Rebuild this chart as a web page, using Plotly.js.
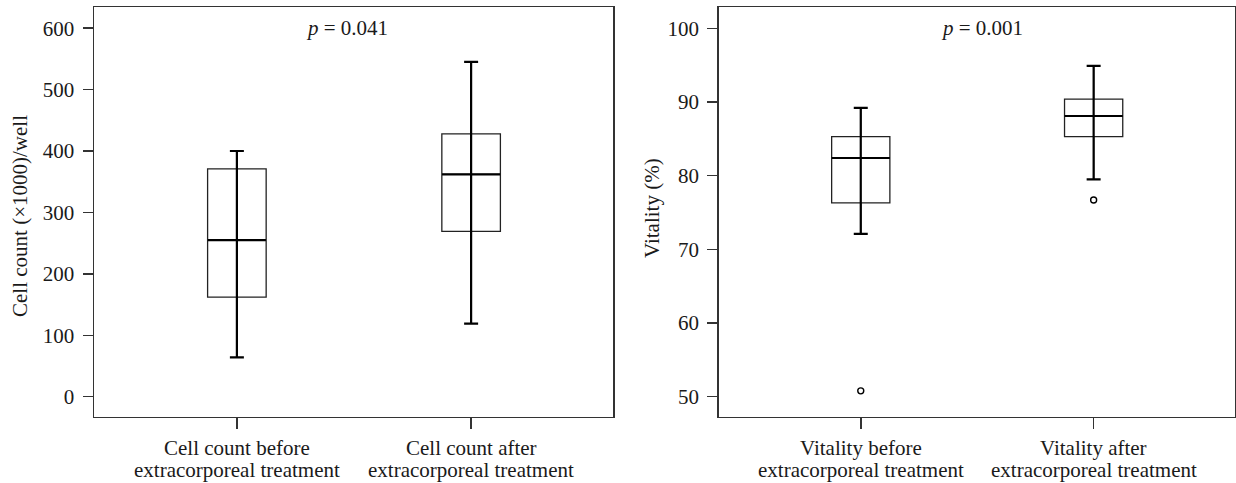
<!DOCTYPE html>
<html>
<head>
<meta charset="utf-8">
<script src="https://cdn.plot.ly/plotly-3.0.1.min.js"></script>
<style>html,body{margin:0;padding:0;background:#fff;}#chart{width:1236px;height:483px;}</style>
</head>
<body>
<div id="chart"></div>
<script>
// ---- Data ----
const cellLabelLine1 = ["Cell count before", "Cell count after"];
const cellLabelLine2 = ["extracorporeal treatment", "extracorporeal treatment"];
const cellLower  = [64, 119];
const cellQ1     = [162, 269];
const cellMedian = [255, 362];
const cellQ3     = [371, 428];
const cellUpper  = [400, 545];
const cellOutliers = [[], []];
const cellP = "0.041";
const cellTitle = "Cell count (×1000)/well";

const vitLabelLine1 = ["Vitality before", "Vitality after"];
const vitLabelLine2 = ["extracorporeal treatment", "extracorporeal treatment"];
const vitLower  = [72.1, 79.5];
const vitQ1     = [76.3, 85.3];
const vitMedian = [82.4, 88.1];
const vitQ3     = [85.3, 90.4];
const vitUpper  = [89.2, 94.9];
const vitOutliers = [[50.8], [76.7]];
const vitP = "0.001";
const vitTitle = "Vitality (%)";

const cellTicks = [0, 100, 200, 300, 400, 500, 600];
const vitTicks = [50, 60, 70, 80, 90, 100];

// ---- Styling ----
const FONT = "Liberation Serif";
const FS = 21;
const TXT = "#1a1a1a";
const FRAME = "#333";
const pos = [0, 1];
const W = 1236, H = 483;

function panelTraces(xa, ya, lower, q1, med, q3, upper, outliers) {
  const t = [];
  t.push({
    type: "box", xaxis: xa, yaxis: ya,
    x: pos, q1: q1, median: med, q3: q3, lowerfence: lower, upperfence: upper,
    width: 0.25, whiskerwidth: 0,
    fillcolor: "rgba(255,255,255,0)",
    line: {color: "#222", width: 1.3},
    boxpoints: false, showlegend: false, hoverinfo: "skip"
  });
  // thicker median line
  t.push({
    type: "scatter", mode: "markers", xaxis: xa, yaxis: ya,
    x: pos, y: med,
    marker: {symbol: "line-ew", size: 41.5, color: "#000", line: {width: 2.2, color: "#000"}},
    showlegend: false, hoverinfo: "skip"
  });
  // whisker line through the box with caps
  t.push({
    type: "scatter", mode: "markers", xaxis: xa, yaxis: ya,
    x: pos, y: med,
    marker: {size: 0.1, color: "rgba(0,0,0,0)"},
    error_y: {type: "data", symmetric: false,
      array: upper.map((u, i) => u - med[i]),
      arrayminus: lower.map((l, i) => med[i] - l),
      width: 7, thickness: 2.2, color: "#000"},
    showlegend: false, hoverinfo: "skip"
  });
  const ox = [], oy = [];
  outliers.forEach((arr, i) => arr.forEach(v => { ox.push(pos[i]); oy.push(v); }));
  t.push({
    type: "scatter", mode: "markers", xaxis: xa, yaxis: ya,
    x: ox, y: oy,
    marker: {symbol: "circle-open", size: 6, color: "#000", line: {width: 1.4, color: "#000"}},
    showlegend: false, hoverinfo: "skip"
  });
  return t;
}

const data = [].concat(
  panelTraces("x", "y", cellLower, cellQ1, cellMedian, cellQ3, cellUpper, cellOutliers),
  panelTraces("x2", "y2", vitLower, vitQ1, vitMedian, vitQ3, vitUpper, vitOutliers)
);

const yDom = [1 - 416.7 / H, 1 - 7.3 / H];

function xAxis(dom, anchor) {
  return {
    domain: dom, range: [-0.61, 1.607], tickmode: "array", tickvals: pos,
    showticklabels: false, anchor: anchor,
    showline: true, mirror: true, linecolor: FRAME, linewidth: 1.5,
    ticks: "outside", ticklen: 11, tickwidth: 1.5, tickcolor: FRAME,
    showgrid: false, zeroline: false, fixedrange: true
  };
}
function yAxis(range, ticks, anchor) {
  return {
    domain: yDom, range: range, tickmode: "array", tickvals: ticks, ticktext: ticks.map(String),
    showline: true, mirror: true, linecolor: FRAME, linewidth: 1.5,
    ticks: "outside", ticklen: 10, tickwidth: 1.5, tickcolor: FRAME,
    showgrid: false, zeroline: false, fixedrange: true, anchor: anchor,
    tickfont: {family: FONT, size: FS, color: TXT}, ticklabelstandoff: 4
  };
}

const font = {family: FONT, size: FS, color: TXT};
const annotations = [];
function catLabels(xref, l1, l2) {
  pos.forEach((p, i) => {
    annotations.push({xref: xref, yref: "paper", x: p, y: 1 - 448 / H, yanchor: "middle",
      text: l1[i], showarrow: false, font: font});
    annotations.push({xref: xref, yref: "paper", x: p, y: 1 - 470 / H, yanchor: "middle",
      text: l2[i], showarrow: false, font: font});
  });
}
catLabels("x", cellLabelLine1, cellLabelLine2);
catLabels("x2", vitLabelLine1, vitLabelLine2);
annotations.push({xref: "x", yref: "y", x: 0.47, y: 600, text: "<i>p</i> = " + cellP, showarrow: false, font: font});
annotations.push({xref: "x2", yref: "y2", x: 0.52, y: 100, text: "<i>p</i> = " + vitP, showarrow: false, font: font});
annotations.push({xref: "paper", yref: "paper", x: 20 / W, y: 1 - 216 / H, textangle: -90,
  xanchor: "center", yanchor: "middle", text: cellTitle, showarrow: false, font: font});
annotations.push({xref: "paper", yref: "paper", x: 652 / W, y: 1 - 208 / H, textangle: -90,
  xanchor: "center", yanchor: "middle", text: vitTitle, showarrow: false, font: font});

const layout = {
  width: W, height: H,
  margin: {l: 0, r: 0, t: 0, b: 0},
  paper_bgcolor: "#fff", plot_bgcolor: "#fff",
  showlegend: false,
  xaxis: xAxis([94 / W, 613.3 / W], "y"),
  yaxis: yAxis([-32.6, 634], cellTicks, "x"),
  xaxis2: xAxis([718.7 / W, 1235 / W], "y2"),
  yaxis2: yAxis([47.29, 102.85], vitTicks, "x2"),
  annotations: annotations
};

Plotly.newPlot("chart", data, layout, {staticPlot: true, displayModeBar: false});
</script>
</body>
</html>
